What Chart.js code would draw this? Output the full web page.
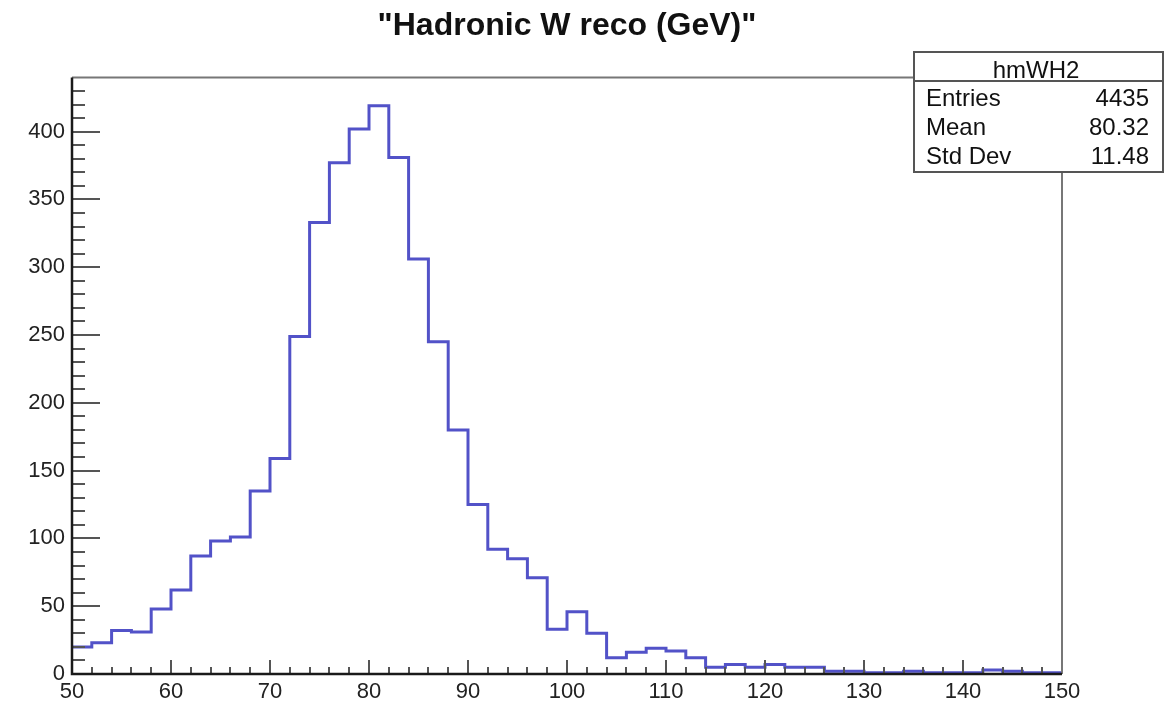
<!DOCTYPE html>
<html>
<head>
<meta charset="utf-8">
<title>Hadronic W reco</title>
<script src="https://cdn.jsdelivr.net/npm/chart.js@4/dist/chart.umd.min.js"></script>
<style>
  html, body { margin: 0; padding: 0; background: #fff; }
  canvas { display: block; }
</style>
</head>
<body>
<canvas id="hist" width="1176" height="709"></canvas>
<script>
// Histogram binning: 50 bins of 2 GeV between 50 and 150
const xMin = 50;
const xMax = 150;
const binWidth = 2;

// Counts per bin, lowest bin first
const counts = [
    20, 23, 32, 31, 48, 62, 87, 98, 101, 135,
    159, 249, 333, 377, 402, 419, 381, 306, 245, 180,
    125, 92, 85, 71, 33, 46, 30, 12, 16, 19,
    17, 12, 5, 7, 5, 7, 5, 5, 2, 2,
    1, 1, 2, 1, 1, 1, 3, 2, 1, 1
];

// Axis range and tick spacing
const yMax = 440;
const xMajorStep = 10;
const xMinorStep = 2;
const yMajorStep = 50;
const yMinorStep = 10;

// Stats box contents
const statsName = 'hmWH2';
const statsLabels = ['Entries', 'Mean', 'Std Dev'];
const statsValues = ['4435', '80.32', '11.48'];

const FONT = '"Liberation Sans", Arial, Helvetica, sans-serif';
const LINE_COLOR = '#5252c8';

// Step outline: one point per lower bin edge, plus the upper edge of the last bin.
// stepped 'before' keeps each bin's count flat until the next edge.
const points = counts.map((c, i) => ({ x: xMin + i * binWidth, y: c }));
points.push({ x: xMax, y: counts[counts.length - 1] });

// ROOT-style frame: ticks drawn inward from the axes, grey top/right border
const frameAndTicks = {
    id: 'frameAndTicks',
    afterDatasetsDraw(chart) {
        const { ctx, chartArea: a, scales } = chart;
        const xs = scales.x, ys = scales.y;
        ctx.save();
        ctx.lineCap = 'butt';

        // y ticks
        ctx.strokeStyle = '#555';
        ctx.lineWidth = 2;
        for (let v = 0; v < yMax; v += yMinorStep) {
            const y = Math.round(ys.getPixelForValue(v));
            const len = v % yMajorStep === 0 ? 28 : 13;
            ctx.beginPath();
            ctx.moveTo(a.left, y);
            ctx.lineTo(a.left + len, y);
            ctx.stroke();
        }

        // x ticks
        for (let v = xMin; v <= xMax; v += xMinorStep) {
            const x = Math.round(xs.getPixelForValue(v));
            const len = (v - xMin) % xMajorStep === 0 ? 14 : 7;
            ctx.beginPath();
            ctx.moveTo(x, a.bottom);
            ctx.lineTo(x, a.bottom - len);
            ctx.stroke();
        }

        // top and right border
        ctx.strokeStyle = '#777';
        ctx.lineWidth = 2;
        ctx.beginPath();
        ctx.moveTo(a.left, a.top);
        ctx.lineTo(a.right, a.top);
        ctx.lineTo(a.right, a.bottom);
        ctx.stroke();

        // axis lines
        ctx.strokeStyle = '#1a1a1a';
        ctx.lineWidth = 2.5;
        ctx.beginPath();
        ctx.moveTo(a.left, a.top);
        ctx.lineTo(a.left, a.bottom);
        ctx.lineTo(a.right, a.bottom);
        ctx.stroke();
        ctx.restore();
    }
};

// Stats box in the top right corner
const statsBox = {
    id: 'statsBox',
    afterDraw(chart) {
        const { ctx } = chart;
        const left = 914, top = 52, right = 1163, bottom = 172, divider = 81;
        ctx.save();
        ctx.fillStyle = '#fff';
        ctx.fillRect(left, top, right - left, bottom - top);
        ctx.strokeStyle = '#555';
        ctx.lineWidth = 2;
        ctx.strokeRect(left, top, right - left, bottom - top);
        ctx.beginPath();
        ctx.moveTo(left, divider);
        ctx.lineTo(right, divider);
        ctx.stroke();

        ctx.fillStyle = '#111';
        ctx.font = `24px ${FONT}`;
        ctx.textBaseline = 'alphabetic';
        ctx.textAlign = 'center';
        ctx.fillText(statsName, 1036, 78);

        const rows = [106, 135, 164];
        statsLabels.forEach((label, i) => {
            ctx.textAlign = 'left';
            ctx.fillText(label, left + 12, rows[i]);
            ctx.textAlign = 'right';
            ctx.fillText(statsValues[i], right - 14, rows[i]);
        });
        ctx.restore();
    }
};

new Chart(document.getElementById('hist'), {
    type: 'line',
    data: {
        datasets: [{
            data: points,
            stepped: 'before',
            borderColor: LINE_COLOR,
            borderWidth: 3,
            pointRadius: 0,
            fill: false
        }]
    },
    options: {
        responsive: false,
        animation: false,
        events: [],
        layout: { padding: { left: 0, right: 114, top: 0, bottom: 0 } },
        plugins: {
            legend: { display: false },
            tooltip: { enabled: false },
            title: {
                display: true,
                fullSize: false,
                text: '"Hadronic W reco (GeV)"',
                color: '#111',
                font: { family: FONT, size: 32, weight: 'bold' },
                padding: { top: 7, bottom: 32 }
            }
        },
        scales: {
            x: {
                type: 'linear',
                min: xMin,
                max: xMax,
                grid: { display: false, drawTicks: false },
                border: { display: false },
                ticks: {
                    stepSize: xMajorStep,
                    includeBounds: false,
                    maxRotation: 0,
                    autoSkip: false,
                    padding: 5,
                    color: '#222',
                    font: { family: FONT, size: 22 }
                },
                afterFit(scale) { scale.height = 35; }
            },
            y: {
                min: 0,
                max: yMax,
                grid: { display: false, drawTicks: false },
                border: { display: false },
                ticks: {
                    stepSize: yMajorStep,
                    includeBounds: false,
                    padding: 7,
                    color: '#222',
                    font: { family: FONT, size: 22 }
                },
                afterFit(scale) { scale.width = 72; }
            }
        }
    },
    plugins: [frameAndTicks, statsBox]
});
</script>
</body>
</html>
